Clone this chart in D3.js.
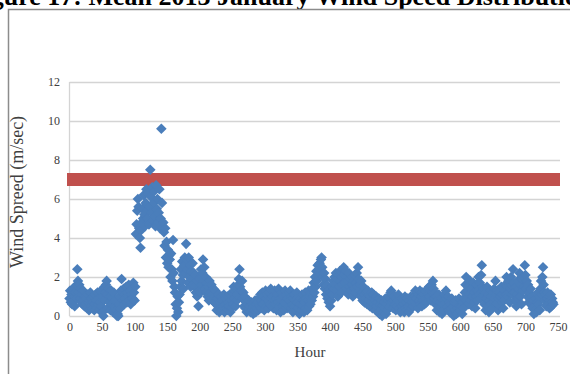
<!DOCTYPE html>
<html>
<head>
<meta charset="utf-8">
<script src="https://cdn.jsdelivr.net/npm/d3@7"></script>
<style>
  body { margin: 0; background: #fff; }
  svg { display: block; }
</style>
</head>
<body>
<svg width="570" height="374"></svg>
<script>
// hourly wind speed (m/sec), January 2013, one row per day (24 h each)
var windSpeed = [
  0.9,1.3,0.7,1.1,0.6,1.4,0.8,1.0,0.5,1.2,0.9,1.6,2.4,1.8,1.2,1.6,0.9,1.4,0.7,1.1,0.6,1.3,0.8,0.5,
  1.0,0.6,0.9,0.4,1.1,0.7,0.3,0.8,1.2,0.5,0.9,0.4,0.7,1.0,0.3,0.6,1.1,0.8,0.4,1.2,0.6,0.9,0.3,0.7,
  1.3,0.5,1.0,0.2,0.0,0.8,1.5,1.2,1.6,1.8,1.1,0.4,1.4,0.7,1.0,0.3,1.3,0.6,0.9,0.2,1.2,0.5,0.8,0.4,
  0.3,0.0,0.1,0.0,0.6,1.0,0.4,1.3,1.9,1.2,0.8,1.4,0.6,1.1,0.9,1.5,0.7,1.2,1.0,1.6,0.8,1.3,0.6,1.1,
  1.4,0.9,1.7,1.2,0.8,1.5,4.2,4.7,5.4,6.0,5.6,4.5,4.0,3.5,4.4,4.8,5.5,5.0,6.2,5.2,4.6,5.8,6.5,5.4,
  5.0,6.3,4.7,5.6,7.5,6.1,5.3,6.6,4.9,5.8,6.4,5.1,4.6,6.7,5.5,6.0,4.8,5.3,6.5,4.5,5.0,9.6,5.8,4.5,
  4.8,4.3,3.6,4.5,3.0,3.8,2.7,3.4,2.5,3.1,2.9,2.0,3.2,2.4,1.8,3.9,2.2,1.5,1.2,0.6,0.0,0.4,1.0,0.2,
  0.7,1.1,1.5,2.4,1.8,2.8,2.1,1.4,2.6,3.0,2.2,3.7,2.9,2.4,1.7,3.0,2.0,2.6,1.5,2.3,1.9,2.7,1.6,2.2,
  1.5,2.1,1.2,1.8,1.0,1.4,0.5,1.3,1.9,1.2,2.4,1.6,2.2,2.9,1.8,2.5,1.4,2.0,1.2,1.7,1.0,1.5,0.8,1.8,
  1.2,0.9,1.6,1.1,0.8,1.4,1.0,0.7,1.3,0.6,0.3,0.9,0.5,1.1,0.2,0.7,0.4,1.0,0.3,0.8,0.5,1.1,0.2,0.6,
  0.9,0.4,1.0,0.3,0.7,0.5,1.1,0.2,0.8,0.4,1.2,0.6,1.5,0.9,1.3,0.5,1.4,0.8,1.1,1.6,1.9,2.4,1.5,1.0,
  1.3,1.8,0.9,1.2,0.5,1.0,0.4,0.7,0.2,0.6,0.3,0.8,0.4,0.5,0.2,0.7,0.3,0.6,0.1,0.5,0.3,0.8,0.2,0.6,
  0.4,0.7,0.3,0.9,0.5,1.1,0.4,0.8,1.2,0.6,1.0,0.3,0.7,1.3,0.9,0.5,1.1,0.4,0.8,1.2,0.6,1.4,0.9,0.5,
  1.0,0.4,0.8,1.3,0.6,0.9,0.3,1.1,0.7,1.4,0.5,0.9,0.2,0.8,1.2,0.5,1.0,0.3,0.7,1.3,0.6,1.1,0.4,0.9,
  0.5,1.2,0.8,1.3,0.4,1.0,0.6,0.2,0.9,1.1,0.5,0.8,0.3,1.2,0.7,0.4,1.0,0.1,0.6,0.9,0.3,1.1,0.5,0.8,
  0.2,0.7,1.2,0.4,0.9,0.3,0.8,1.3,0.5,1.0,0.6,1.2,0.8,1.4,1.0,1.7,1.2,2.0,1.5,2.3,1.8,2.6,2.1,2.4,
  2.7,2.2,2.9,3.0,2.5,2.0,1.6,2.2,1.4,1.9,1.1,1.6,0.9,1.3,0.7,1.0,0.5,1.2,0.8,1.5,1.1,1.8,1.4,2.0,
  1.6,2.2,1.3,1.9,1.0,2.1,1.5,2.3,1.8,1.2,2.0,1.6,2.4,2.5,2.1,1.7,2.3,1.4,2.0,1.8,1.1,2.2,1.5,1.9,
  1.3,2.0,1.6,1.0,1.8,1.4,2.1,1.2,1.7,2.2,1.5,2.5,1.9,1.3,1.6,1.0,1.8,1.2,0.8,1.5,1.1,0.7,1.4,0.9,
  1.2,0.6,1.3,0.8,1.1,0.5,1.0,0.7,1.2,0.4,0.9,1.1,0.6,0.8,0.3,1.0,0.5,0.7,0.2,0.9,0.1,0.6,0.3,0.8,
  0.0,0.5,0.2,0.7,0.4,0.9,0.1,0.6,0.3,0.8,1.0,0.5,0.9,1.2,1.3,0.7,1.1,0.4,0.8,1.0,0.6,0.3,0.9,0.5,
  0.8,1.1,0.4,0.7,0.2,0.9,0.5,0.3,0.8,0.6,0.2,1.0,0.4,0.7,0.3,0.9,0.5,0.2,0.8,0.6,1.0,0.4,0.7,0.9,
  0.5,1.0,0.7,1.3,0.6,0.9,1.2,0.4,1.1,0.8,1.3,0.6,1.0,0.5,1.2,0.8,1.1,0.6,0.9,1.3,0.7,1.0,1.4,1.1,
  1.5,1.0,1.3,0.8,1.6,1.2,1.8,1.4,0.9,1.2,0.6,1.0,0.3,0.8,0.5,1.1,0.2,0.7,0.4,0.9,0.1,0.6,0.3,0.8,
  1.1,0.7,1.3,0.9,0.5,1.0,0.3,0.7,0.2,0.6,0.4,0.9,0.2,0.5,0.0,0.7,0.3,0.8,0.1,0.6,0.4,0.2,0.9,0.5,
  0.3,0.8,0.5,0.1,0.7,0.4,0.9,1.2,1.6,2.0,1.3,0.9,1.5,0.6,1.1,1.8,0.8,1.4,0.5,1.0,1.7,0.7,1.2,0.4,
  1.0,1.6,0.8,1.3,2.0,1.1,1.7,0.9,2.1,2.6,1.5,1.0,1.4,0.6,1.2,0.3,0.9,1.5,0.5,1.1,0.2,0.8,1.3,0.6,
  1.0,0.4,1.2,0.7,1.4,0.9,1.8,1.1,0.6,1.3,0.3,0.9,1.2,0.5,1.0,1.5,0.7,1.1,0.4,0.8,1.3,1.6,1.1,2.0,
  1.5,1.0,1.8,1.2,0.7,1.4,2.0,1.6,1.1,2.4,1.7,1.2,0.8,1.5,0.5,1.1,1.8,0.9,1.4,2.2,1.0,1.6,0.6,1.9,
  1.3,2.0,1.5,2.6,2.1,1.4,1.8,1.0,1.6,0.7,1.2,0.9,1.4,0.6,1.0,0.4,0.8,0.1,0.5,0.3,0.9,0.2,0.7,1.2,
  0.6,1.0,0.3,1.4,1.8,1.1,2.0,2.5,1.6,1.2,0.8,1.1,0.5,0.9,1.2,0.6,1.0,0.4,0.8,1.1,0.5,0.9,0.7,0.6
];
var threshold = 7;              // red reference line
var thresholdHours = [0, 750];
var xTicks = [0,50,100,150,200,250,300,350,400,450,500,550,600,650,700,750];
var yTicks = [0,2,4,6,8,10,12];

var svg = d3.select("svg");

// caption, cut off at the top as in the source scan
var title = svg.append("text")
    .attr("y", 5)
    .attr("font-family", "Liberation Serif")
    .attr("font-weight", "bold")
    .attr("font-size", 26)
    .attr("fill", "#000")
    .text("Figure 17: Mean 2013 January Wind Speed Distribution");
// line the "y" of January up with where it sits in the source
var tNode = title.node();
var jIdx = title.text().indexOf("January") + 6;
var before = tNode.getSubStringLength(0, jIdx);
var yW = tNode.getSubStringLength(jIdx, 1);
title.attr("x", 303 - before - yW / 2);

// chart frame
svg.append("rect")
    .attr("x", 8.5).attr("y", 9.5)
    .attr("width", 600).attr("height", 400)
    .attr("fill", "none")
    .attr("stroke", "#8c8c8c")
    .attr("stroke-width", 1.5);

var x = d3.scaleLinear().domain([0, 750]).range([69.5, 558]);
var y = d3.scaleLinear().domain([0, 12]).range([316, 82]);

// gridlines
svg.append("g")
    .selectAll("line")
    .data(yTicks)
    .enter().append("line")
    .attr("x1", 69.5).attr("x2", 560)
    .attr("y1", function(d) { return Math.round(y(d)) + 0.5; })
    .attr("y2", function(d) { return Math.round(y(d)) + 0.5; })
    .attr("stroke", "#d4d4d4")
    .attr("stroke-width", 1.3);

svg.append("line")
    .attr("x1", 69.5).attr("x2", 69.5)
    .attr("y1", y(12)).attr("y2", y(0))
    .attr("stroke", "#d4d4d4")
    .attr("stroke-width", 1.3);

// axes (labels only)
var yAxis = svg.append("g")
    .attr("transform", "translate(60,0)")
    .call(d3.axisLeft(y).tickValues(yTicks).tickSize(0).tickPadding(0));
var xAxis = svg.append("g")
    .attr("transform", "translate(0,322)")
    .call(d3.axisBottom(x).tickValues(xTicks).tickSize(0).tickPadding(0));
[yAxis, xAxis].forEach(function(a) {
    a.select(".domain").remove();
    a.selectAll("text")
        .attr("font-family", "Liberation Serif")
        .attr("font-size", 12)
        .attr("fill", "#404040");
});

// threshold band
svg.append("line")
    .attr("x1", x(thresholdHours[0]) - 2.5)
    .attr("x2", x(thresholdHours[1]) + 2)
    .attr("y1", y(threshold)).attr("y2", y(threshold))
    .attr("stroke", "#c0504d")
    .attr("stroke-width", 13);

// hourly points as diamonds
var diamond = d3.symbol().type(d3.symbolSquare).size(56);
svg.append("g")
    .selectAll("path")
    .data(windSpeed)
    .enter().append("path")
    .attr("d", diamond)
    .attr("transform", function(d, i) {
        return "translate(" + x(i) + "," + y(d) + ") rotate(45)";
    })
    .attr("fill", "#4a7ebb");

// axis titles
svg.append("text")
    .attr("x", 310).attr("y", 357)
    .attr("text-anchor", "middle")
    .attr("font-family", "Liberation Serif")
    .attr("font-size", 15)
    .attr("fill", "#404040")
    .text("Hour");

svg.append("text")
    .attr("transform", "translate(23,192) rotate(-90)")
    .attr("text-anchor", "middle")
    .attr("font-family", "Liberation Serif")
    .attr("font-size", 18)
    .attr("fill", "#404040")
    .text("Wind Spreed (m/sec)");
</script>
</body>
</html>
